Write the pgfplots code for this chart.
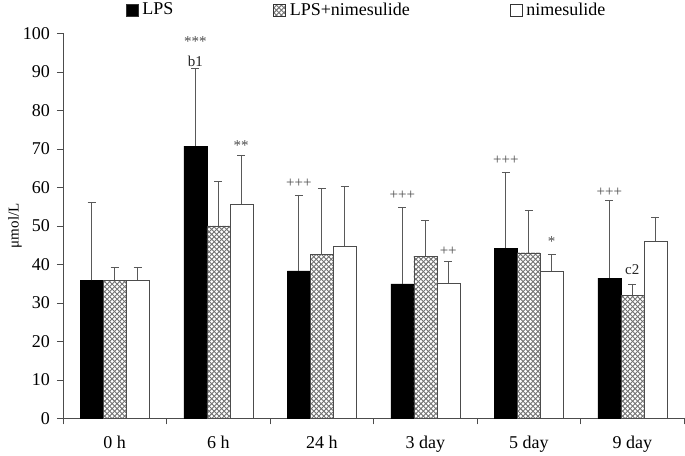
\documentclass[border=0pt]{standalone}
\usepackage{pgfplots}
\pgfplotsset{compat=1.18}
\usepackage{pgfplotstable}
\usepackage{fontspec}
\setmainfont{Liberation Serif}
\usetikzlibrary{patterns}
\pgfdeclarepatternformonly{diagcross}{\pgfqpoint{-1pt}{-1pt}}{\pgfqpoint{6pt}{6pt}}{\pgfqpoint{5pt}{5pt}}{
  \pgfsetlinewidth{0.9pt}
  \pgfpathmoveto{\pgfqpoint{0pt}{0pt}}\pgfpathlineto{\pgfqpoint{5.1pt}{5.1pt}}
  \pgfpathmoveto{\pgfqpoint{0pt}{5pt}}\pgfpathlineto{\pgfqpoint{5.1pt}{-0.1pt}}
  \pgfusepath{stroke}}

\pgfplotstableread{
x y e
0.5 35.8 20.2
1.5 70.7 20.1
2.5 38.3 19.7
3.5 34.9 19.9
4.5 44.2 19.7
5.5 36.4 20.1
}\lps
\pgfplotstableread{
x y e
0.5 35.8 3.3
1.5 50.0 11.6
2.5 42.5 17.2
3.5 42.1 9.3
4.5 43.0 11.1
5.5 32.0 2.9
}\lpsnim
\pgfplotstableread{
x y e
0.5 35.8 3.3
1.5 55.7 12.7
2.5 44.7 15.6
3.5 35.2 5.5
4.5 38.2 4.4
5.5 46.1 6.2
}\nim

\begin{document}
\fontsize{18bp}{21bp}\selectfont
\begin{tikzpicture}
\useasboundingbox (-63bp,-37.7bp) rectangle (622bp,418.3bp);
\begin{axis}[
  at={(0,0)}, anchor=south west,
  scale only axis,
  width=621bp, height=385bp,
  xmin=0, xmax=6, ymin=0, ymax=100,
  axis x line*=bottom, axis y line*=left,
  axis line style={black!70},
  ytick={0,10,...,100},
  xtick={0.5,1.5,...,5.5},
  xticklabels={0 h,6 h,24 h,3 day,5 day,9 day},
  minor xtick={0,1,...,6},
  major x tick style={draw=none},
  minor tick length=6bp,
  major tick length=6bp,
  tick style={black!70},
  tick align=outside,
  xticklabel style={yshift=-6bp},
  yticklabel style={xshift=-1bp},
  /pgf/number format/assume math mode=true,
  ticklabel style={font=\fontsize{18bp}{21bp}\selectfont},
  ylabel={μmol/L},
  ylabel style={font=\fontsize{15bp}{18bp}\selectfont, at={(axis description cs:-0.0773,0.5)}, anchor=center},
  ybar=0pt, bar width=23bp,
  legend columns=3,
  legend style={draw=none, fill=none, at={(0.489,1)}, yshift=23bp, anchor=center,
    font=\fontsize{18bp}{21bp}\selectfont,
    /tikz/every even column/.append style={column sep=98bp}},
  legend image code/.code={\draw[#1,draw=black!80] (0bp,-6bp) rectangle (12bp,6bp); \path (14bp,0bp);},
  error bars/y dir=plus, error bars/y explicit,
  error bars/error bar style={black!65, line width=0.8pt},
  error bars/error mark options={rotate=90, mark size=4bp, black!65, line width=0.8pt},
  clip=false,
]
\addplot[fill=black, draw=black] table[x=x, y=y, y error=e]{\lps};
\addlegendentry{LPS}
\addplot[pattern=diagcross, pattern color=black!55, draw=black!70] table[x=x, y=y, y error=e]{\lpsnim};
\addlegendentry{LPS+nimesulide}
\addplot[fill=white, draw=black!70] table[x=x, y=y, y error=e]{\nim};
\addlegendentry{nimesulide}

\begin{scope}[every node/.style={font=\fontsize{15bp}{18bp}\selectfont, text=black!70, inner sep=0pt}]
\node at (axis cs:1.278,97.8) {***};
\node[text=black!85] at (axis cs:1.278,92.6) {b1};
\node at (axis cs:1.722,70.8) {**};
\node at (axis cs:2.278,61.0) {+++};
\node at (axis cs:3.278,58.0) {+++};
\node at (axis cs:3.722,43.5) {++};
\node at (axis cs:4.278,66.9) {+++};
\node at (axis cs:4.722,45.9) {*};
\node at (axis cs:5.278,58.8) {+++};
\node[text=black!85] at (axis cs:5.5,38.5) {c2};
\end{scope}
\end{axis}
\end{tikzpicture}
\end{document}
